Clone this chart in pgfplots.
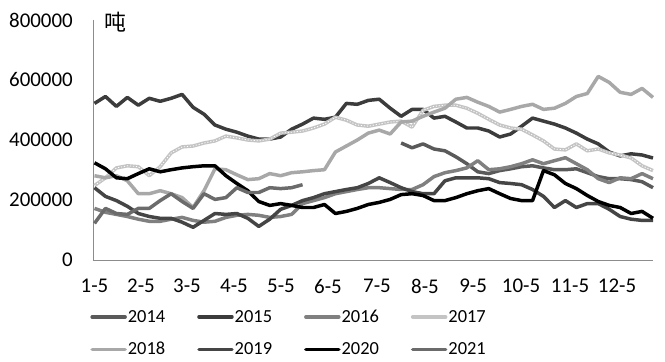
\documentclass[border=0pt]{standalone}
\usepackage{fontspec}
\setmainfont{Carlito}
\newfontfamily\cjk{Noto Sans CJK SC}
\usepackage{pgfplots}
\pgfplotsset{compat=1.18}
\usepackage{pgfplotstable}

\definecolor{cA}{HTML}{5A5A5A}
\definecolor{cB}{HTML}{3C3C3C}
\definecolor{cC}{HTML}{808080}
\definecolor{cD}{HTML}{C4C4C4}
\definecolor{cE}{HTML}{A8A8A8}
\definecolor{cF}{HTML}{454545}
\definecolor{cG}{HTML}{000000}
\definecolor{cH}{HTML}{6B6B6B}
\definecolor{axisgray}{HTML}{8C8C8C}

\pgfplotstableread{
w v
28 390000
29 374000
30 387000
31 370000
32 364000
33 344000
34 321000
35 294000
36 288000
37 298000
38 304000
39 311000
40 314000
41 307000
42 301000
43 301000
44 304000
45 291000
46 278000
47 271000
48 271000
49 268000
50 261000
51 241000
}\tA

\pgfplotstableread{
w v
0 522000
1 545000
2 512000
3 542000
4 516000
5 539000
6 529000
7 539000
8 552000
9 509000
10 486000
11 450000
12 436000
13 426000
14 413000
15 403000
16 403000
17 410000
18 436000
19 453000
20 473000
21 469000
22 476000
23 522000
24 519000
25 532000
26 536000
27 506000
28 479000
29 502000
30 502000
31 473000
32 479000
33 460000
34 440000
35 440000
36 430000
37 410000
38 420000
39 446000
40 473000
41 463000
42 453000
43 440000
44 423000
45 403000
46 387000
47 360000
48 347000
49 354000
50 350000
51 340000
}\tB

\pgfplotstableread{
w v
0 172000
1 159000
2 152000
3 145000
4 136000
5 129000
6 129000
7 136000
8 142000
9 132000
10 126000
11 129000
12 142000
13 149000
14 152000
15 149000
16 142000
17 145000
18 152000
19 188000
20 198000
21 208000
22 221000
23 228000
24 235000
25 241000
26 241000
27 238000
28 235000
29 235000
30 251000
31 278000
32 291000
33 298000
34 307000
35 331000
36 301000
37 304000
38 311000
39 321000
40 334000
41 321000
42 331000
43 341000
44 321000
45 301000
46 271000
47 258000
48 274000
49 271000
50 288000
51 271000
}\tC

\pgfplotstableread{
w v
0 248000
1 274000
2 307000
3 314000
4 311000
5 281000
6 311000
7 357000
8 377000
9 380000
10 390000
11 397000
12 413000
13 407000
14 400000
15 397000
16 403000
17 423000
18 426000
19 430000
20 440000
21 453000
22 476000
23 466000
24 450000
25 446000
26 453000
27 460000
28 463000
29 443000
30 499000
31 512000
32 516000
33 516000
34 506000
35 489000
36 469000
37 450000
38 440000
39 436000
40 417000
41 397000
42 370000
43 367000
44 387000
45 364000
46 370000
47 357000
48 350000
49 340000
50 314000
51 298000
}\tD

\pgfplotstableread{
w v
0 281000
1 274000
2 281000
3 264000
4 221000
5 221000
6 231000
7 221000
8 208000
9 175000
10 231000
11 304000
12 301000
13 284000
14 268000
15 271000
16 288000
17 281000
18 291000
19 294000
20 298000
21 301000
22 360000
23 380000
24 400000
25 423000
26 433000
27 420000
28 460000
29 463000
30 479000
31 493000
32 506000
33 536000
34 542000
35 526000
36 512000
37 493000
38 502000
39 512000
40 519000
41 502000
42 506000
43 522000
44 545000
45 555000
46 612000
47 592000
48 559000
49 552000
50 572000
51 542000
}\tE

\pgfplotstableread{
w v
0 241000
1 212000
2 198000
3 179000
4 155000
5 145000
6 139000
7 139000
8 126000
9 109000
10 132000
11 155000
12 152000
13 155000
14 139000
15 112000
16 136000
17 169000
18 182000
19 198000
20 208000
21 221000
22 228000
23 235000
24 241000
25 255000
26 274000
27 258000
28 241000
29 228000
30 221000
31 221000
32 264000
33 274000
34 274000
35 274000
36 271000
37 258000
38 255000
39 251000
40 235000
41 212000
42 175000
43 198000
44 175000
45 188000
46 188000
47 169000
48 145000
49 136000
50 132000
51 132000
}\tF

\pgfplotstableread{
w v
0 324000
1 304000
2 274000
3 271000
4 288000
5 304000
6 294000
7 301000
8 307000
9 311000
10 314000
11 314000
12 281000
13 255000
14 231000
15 195000
16 182000
17 188000
18 182000
19 175000
20 175000
21 185000
22 155000
23 162000
24 172000
25 185000
26 192000
27 202000
28 218000
29 221000
30 215000
31 198000
32 198000
33 208000
34 221000
35 231000
36 238000
37 221000
38 205000
39 198000
40 198000
41 298000
42 284000
43 255000
44 238000
45 215000
46 195000
47 182000
48 175000
49 155000
50 162000
51 139000
}\tG

\pgfplotstableread{
w v
0 122000
1 172000
2 155000
3 152000
4 172000
5 172000
6 198000
7 221000
8 195000
9 172000
10 221000
11 202000
12 208000
13 241000
14 225000
15 225000
16 241000
17 238000
18 241000
19 251000
}\tH

\begin{document}
\begin{tikzpicture}
\path[use as bounding box] (-93bp,-102bp) rectangle (572bp,260bp);
\begin{axis}[
  at={(0,0)}, anchor=south west,
  scale only axis, width=560bp, height=240bp,
  xmin=-0.137, xmax=51, ymin=0, ymax=800000,
  axis x line*=bottom, axis y line*=left,
  axis line style={-, draw=axisgray, line width=0.9pt},
  major tick length=0pt,
  xtick={0,4.25,8.45,12.74,17.03,21.32,25.8,30.18,34.57,38.95,43.42,47.72},
  xticklabels={1-5,2-5,3-5,4-5,5-5,6-5,7-5,8-5,9-5,10-5,11-5,12-5},
  ytick={0,200000,400000,600000,800000},
  scaled y ticks=false,
  /pgf/number format/assume math mode=true,
  yticklabel style={/pgf/number format/fixed, /pgf/number format/1000 sep={}, inner sep=0pt, xshift=-20bp},
  xticklabel style={inner sep=0pt, yshift=-19bp},
  tick label style={font=\fontsize{21}{24}\selectfont},
  clip=false,
  legend columns=4,
  legend style={at={(-0.005,-0.203)}, anchor=north west, draw=none, fill=none,
    inner sep=0pt, font=\fontsize{18.5}{22}\selectfont,
    nodes={inner sep=1bp},
    row sep=16.5bp,
    /tikz/every odd column/.append style={column sep=0bp},
    /tikz/every even column/.append style={column sep=31bp}},
  legend image code/.code={\draw[#1,line cap=round] (0bp,0bp) -- (33bp,0bp);},
  every axis plot/.append style={line width=3.5pt, line join=round, no markers},
]
\addplot[color=cA] table[x=w,y=v] {\tA};
\addlegendentry{2014}
\addplot[color=cB] table[x=w,y=v] {\tB};
\addlegendentry{2015}
\addplot[color=cC] table[x=w,y=v] {\tC};
\addlegendentry{2016}
\addplot[color=cD] table[x=w,y=v] {\tD};
\addlegendentry{2017}
\addplot[color=white, line width=0.8pt, dash pattern=on 1.2pt off 1.8pt, forget plot] table[x=w,y=v] {\tD};
\addplot[color=cE] table[x=w,y=v] {\tE};
\addlegendentry{2018}
\addplot[color=cF] table[x=w,y=v] {\tF};
\addlegendentry{2019}
\addplot[color=cG] table[x=w,y=v] {\tG};
\addlegendentry{2020}
\addplot[color=cH] table[x=w,y=v] {\tH};
\addlegendentry{2021}
\end{axis}
\node[font=\cjk\fontsize{22}{24}\selectfont, inner sep=0pt] at (22bp,238bp) {吨};
\end{tikzpicture}
\end{document}
